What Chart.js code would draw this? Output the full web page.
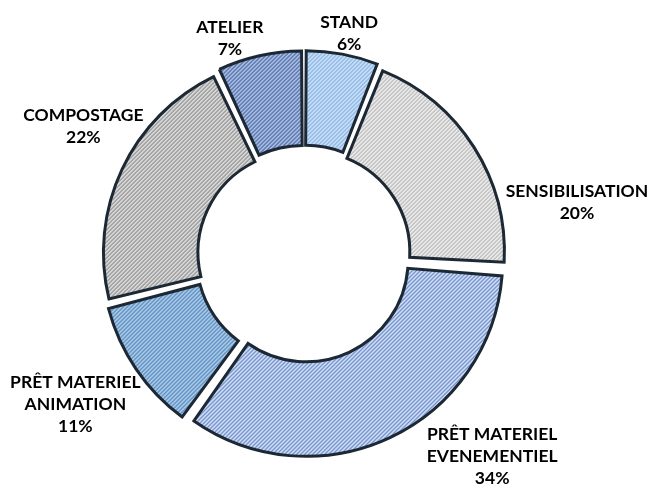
<!DOCTYPE html>
<html>
<head>
<meta charset="utf-8">
<script src="https://cdn.jsdelivr.net/npm/chart.js@4.4.1/dist/chart.umd.min.js"></script>
<style>
  html, body { margin: 0; padding: 0; background: #ffffff; }
  #wrap { position: relative; width: 659px; height: 486px; }
</style>
</head>
<body>
<div id="wrap"><canvas id="donut"></canvas></div>
<script>
// -- Data ---------------------------------------------------------------
const CATEGORIES = [
  ["STAND"],
  ["SENSIBILISATION"],
  ["PRÊT MATERIEL", "EVENEMENTIEL"],
  ["PRÊT MATERIEL", "ANIMATION"],
  ["COMPOSTAGE"],
  ["ATELIER"],
];
const SHARES = [6, 20, 34, 11, 22, 7];

// -- Styling ------------------------------------------------------------
// [background, stripe] per slice, hatched like the original
const SLICE_COLOURS = [
  ["#cde1f6", "#80afe3"],
  ["#eeeeee", "#b4b4b4"],
  ["#d0ddf3", "#6286c9"],
  ["#b0cfeb", "#4a80b8"],
  ["#dcdcdc", "#8c8c8c"],
  ["#b0c3e8", "#41609a"],
];
// label block shift (px) from the outer middle of each slice
const LABEL_SHIFT = [
  [9, -33],
  [110, 50],
  [106, 26],
  [-69, 40],
  [-46, -47],
  [-32, -29],
];
const LABEL_FONT = "bold 17.5px Lato";
const LINE_GAP = 22;

/** Small repeating tile with "/" diagonal stripes. */
function hatch(bg, fg) {
  const size = 4;
  const c = document.createElement("canvas");
  c.width = size;
  c.height = size;
  const g = c.getContext("2d");
  g.fillStyle = bg;
  g.fillRect(0, 0, size, size);
  g.fillStyle = fg;
  for (let x = 0; x < size; x++) {
    g.fillRect(x, size - 1 - x, 1, 1);
  }
  g.globalAlpha = 0.55;
  for (let x = 0; x < size; x++) {
    g.fillRect(x, (2 * size - 2 - x) % size, 1, 1);
  }
  return g.createPattern(c, "repeat");
}

const sliceLabels = {
  id: "sliceLabels",
  afterDatasetsDraw(chart) {
    const ctx = chart.ctx;
    const meta = chart.getDatasetMeta(0);
    ctx.save();
    ctx.font = LABEL_FONT;
    ctx.fillStyle = "#000000";
    ctx.textAlign = "center";
    ctx.textBaseline = "middle";
    meta.data.forEach((arc, i) => {
      const p = arc.getProps(["x", "y", "startAngle", "endAngle", "outerRadius"], true);
      const mid = (p.startAngle + p.endAngle) / 2;
      const ax = p.x + Math.cos(mid) * p.outerRadius + LABEL_SHIFT[i][0];
      const ay = p.y + Math.sin(mid) * p.outerRadius + LABEL_SHIFT[i][1];
      const lines = CATEGORIES[i].concat([SHARES[i] + "%"]);
      lines.forEach((txt, j) => {
        ctx.fillText(txt, ax, ay + (j - (lines.length - 1) / 2) * LINE_GAP + 1);
      });
    });
    ctx.restore();
  },
};

document.fonts.load(LABEL_FONT).then(() => {
  new Chart(document.getElementById("donut"), {
    type: "doughnut",
    data: {
      labels: CATEGORIES.map((l) => l.join(" ")),
      datasets: [
        {
          data: SHARES,
          backgroundColor: SLICE_COLOURS.map(([bg, fg]) => hatch(bg, fg)),
          borderColor: "#1d2835",
          borderWidth: 3,
          borderJoinStyle: "miter",
          offset: 22,
          spacing: 5,
        },
      ],
    },
    options: {
      animation: false,
      responsive: true,
      maintainAspectRatio: false,
      radius: 193,
      cutout: "51%",
      layout: { padding: { left: 0, right: 51, top: 24, bottom: 0 } },
      plugins: {
        legend: { display: false },
        tooltip: { enabled: false },
      },
    },
    plugins: [sliceLabels],
  });
});
</script>
</body>
</html>
